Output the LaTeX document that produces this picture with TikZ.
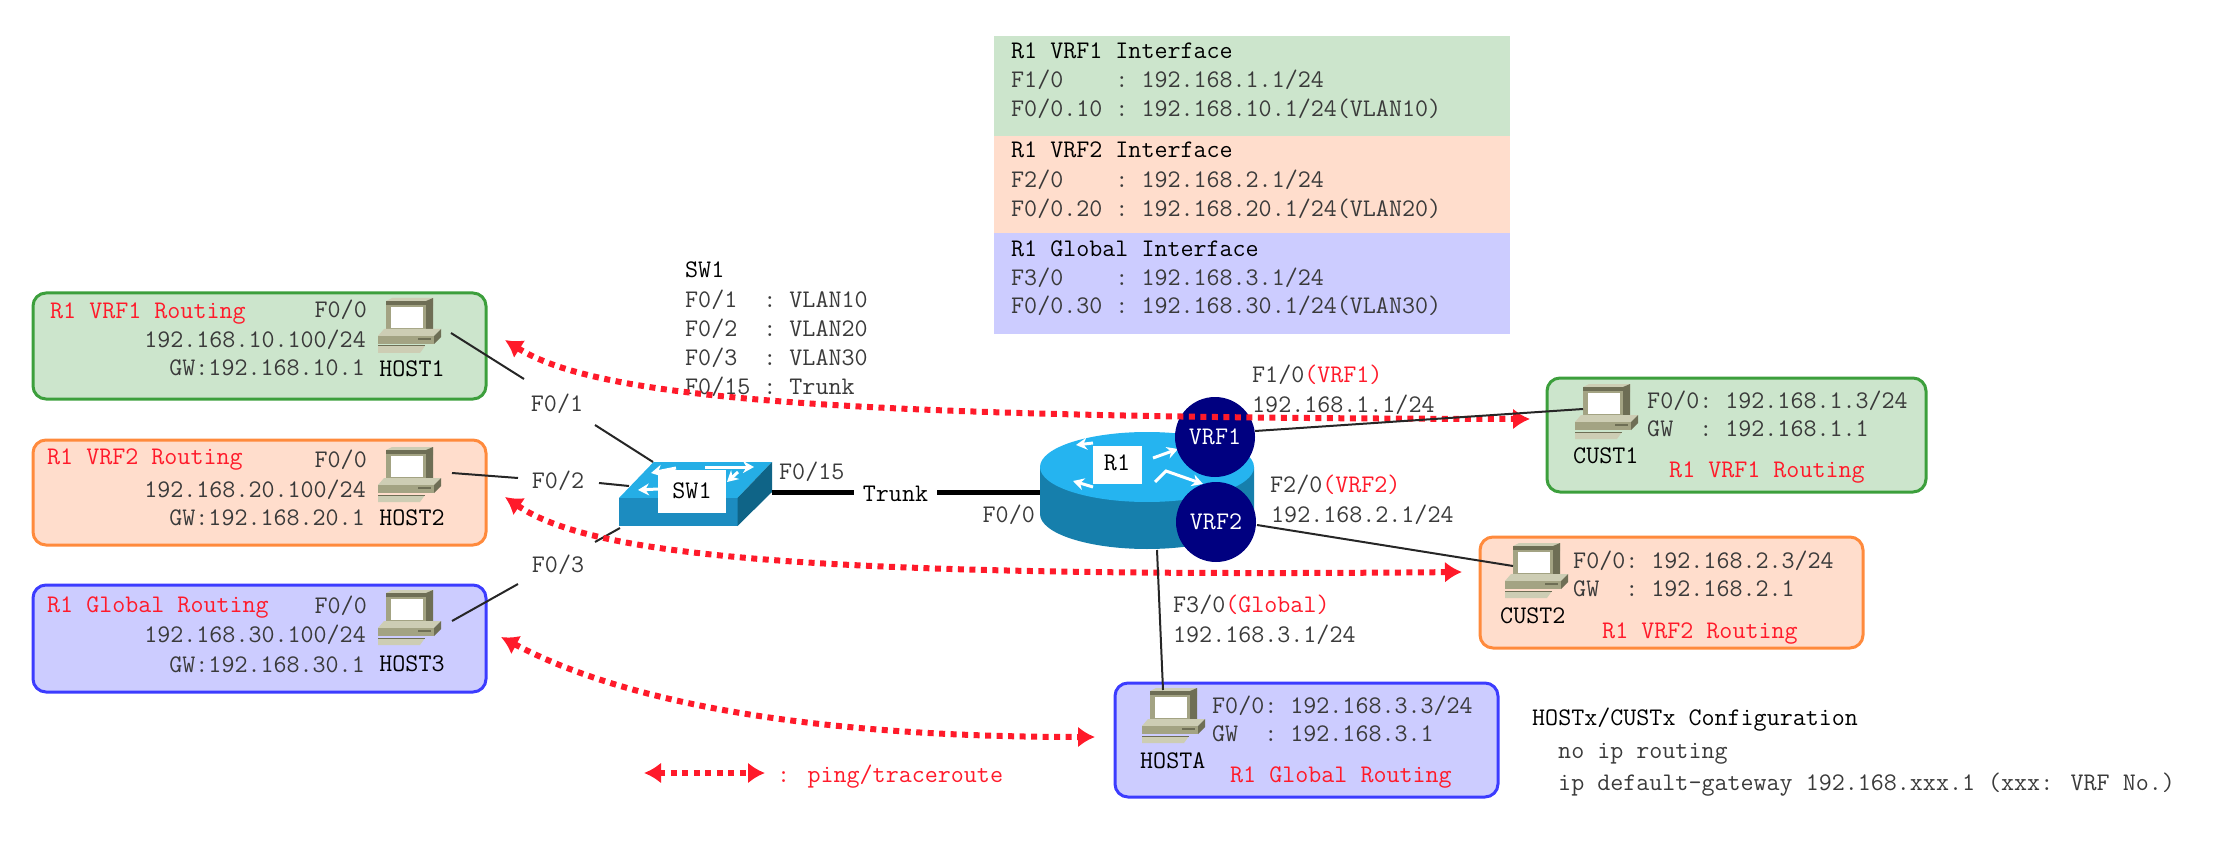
\documentclass[tikz,border=0pt]{standalone}
\usetikzlibrary{arrows.meta}
\definecolor{gfill}{HTML}{CCE5CC}\definecolor{ofill}{HTML}{FFDDCC}\definecolor{bfill}{HTML}{CCCCFF}
\definecolor{gline}{HTML}{3C9F3C}\definecolor{oline}{HTML}{FF8A3C}\definecolor{bline}{HTML}{3C3CFF}
\definecolor{txt}{HTML}{3A3A3A}\definecolor{red1}{HTML}{FF1A2A}
\definecolor{swtop}{HTML}{25AEE6}\definecolor{swfront}{HTML}{1C8CC0}\definecolor{swside}{HTML}{0F6487}
\definecolor{rtop}{HTML}{25B4F0}\definecolor{rbody}{HTML}{167FAC}\definecolor{vrf}{HTML}{000080}
\definecolor{pc1}{HTML}{A3A383}\definecolor{pc2}{HTML}{6E6E55}\definecolor{pc3}{HTML}{CDCDB4}
\tikzset{
  lab/.style={font=\fontsize{25.3}{30}\selectfont\ttfamily,text=txt,inner sep=0pt,anchor=base west},
  labr/.style={lab,anchor=base east},
  labc/.style={lab,anchor=base},
  head/.style={lab,text=black},
  redt/.style={lab,text=red1},
  grp/.style={draw=#1line,fill=#1fill,line width=3pt,rounded corners=13pt},
  link/.style={draw=black!85,line width=2pt},
  ping/.style={draw=red1,line width=6pt,dash pattern=on 6pt off 5.5pt,{Latex[length=17pt,width=21pt]}-{Latex[length=17pt,width=21pt]}},
  flow/.style={draw=white,line width=3pt,-{Stealth[length=11pt,width=12pt]}},
  pics/computer/.style={code={
    \fill[pc3] (8,3) -- (14,0) -- (55,0) -- (55,8) -- (8,8) -- cycle;
    \fill[pc1] (8,3) rectangle (48,35);
    \fill[pc2] (48,3) -- (55,0) -- (55,32) -- (48,35) -- cycle;
    \fill[pc2] (8,3) rectangle (48,7);
    \fill[white] (13,9) rectangle (45,30);
    \fill[pc2] (14,32) rectangle (46,36);
    \fill[pc3] (0,38) -- (6,31) -- (63,31) -- (56,38) -- cycle;
    \fill[pc1] (0,38) rectangle (56,46);
    \fill[pc2] (56,38) -- (63,31) -- (63,39) -- (56,46) -- cycle;
    \fill[pc2] (40,40) rectangle (53,42);
    \fill[pc3] (0,48) -- (47,48) -- (42,55) -- (0,55) -- cycle;
    \draw[pc2,line width=1pt] (0,48) -- (47,48);
  }}
}
\begin{document}
\begin{tikzpicture}[x=1pt,y=-1pt]
\useasboundingbox (0,0) rectangle (2232,866);
% interface table
\fill[gfill] (994,36) rectangle (1510,136);
\fill[ofill] (994,136) rectangle (1510,233);
\fill[bfill] (994,233) rectangle (1510,334);
\node[head] (t1) at (1011,59) {R1 VRF1 Interface};
\node[lab] (t2) at (1011,88) {F1/0~~~~:~192.168.1.1/24};
\node[lab] (t3) at (1011,117) {F0/0.10~:~192.168.10.1/24(VLAN10)};
\node[head] (t4) at (1011,158) {R1 VRF2 Interface};
\node[lab] (t5) at (1011,188) {F2/0~~~~:~192.168.2.1/24};
\node[lab] (t6) at (1011,217) {F0/0.20~:~192.168.20.1/24(VLAN20)};
\node[head] (t7) at (1011,257) {R1 Global Interface};
\node[lab] (t8) at (1011,286) {F3/0~~~~:~192.168.3.1/24};
\node[lab] (t9) at (1011,314) {F0/0.30~:~192.168.30.1/24(VLAN30)};
% SW1 table
\node[head] (s0) at (685,278) {SW1};
\node[lab] (s1) at (685,308) {F0/1~~:~VLAN10};
\node[lab] (s2) at (685,337) {F0/2~~:~VLAN20};
\node[lab] (s3) at (685,366) {F0/3~~:~VLAN30};
\node[lab] (s4) at (685,395) {F0/15~:~Trunk};
% group boxes
\draw[grp=g] (33,293) rectangle (486,399);
\draw[grp=o] (33,440) rectangle (486,545);
\draw[grp=b] (33,585) rectangle (486,692);
\draw[grp=g] (1547,378) rectangle (1926,492);
\draw[grp=o] (1480,537) rectangle (1863,648);
\draw[grp=b] (1115,683) rectangle (1498,797);
% computers
\pic at (378,298) {computer};
\pic at (378,447) {computer};
\pic at (378,590) {computer};
\pic at (1575,384) {computer};
\pic at (1505,543) {computer};
\pic at (1142,688) {computer};
% left box texts
\node[redt] (a1) at (50,319) {R1 VRF1 Routing};
\node[labr] (a2) at (367,318) {F0/0};
\node[labr] (a3) at (366,348) {192.168.10.100/24};
\node[labr] (a4) at (365,376) {GW:192.168.10.1};
\node[head,anchor=base] (h1) at (412,377) {HOST1};
\node[redt] (b1) at (47,464) {R1 VRF2 Routing};
\node[labr] (b2) at (367,467) {F0/0};
\node[labr] (b3) at (366,497) {192.168.20.100/24};
\node[labr] (b4) at (365,525) {GW:192.168.20.1};
\node[head,anchor=base] (h2) at (412,525) {HOST2};
\node[redt] (c1) at (47,612) {R1 Global Routing};
\node[labr] (c2) at (367,613) {F0/0};
\node[labr] (c3) at (366,642) {192.168.30.100/24};
\node[labr] (c4) at (365,672) {GW:192.168.30.1};
\node[head,anchor=base] (h3) at (412,671) {HOST3};
% switch body
\fill[swtop] (619,498) -- (653.6,462) -- (772,462) -- (737.5,498) -- cycle;
\fill[swfront] (619,498) rectangle (737.5,526);
\fill[swside] (737.5,498) -- (772,462) -- (772,492) -- (737.5,526) -- cycle;
\draw[flow] (705,467) -- (754,467);
\draw[flow] (676,468) -- (651,473);
\draw[flow] (658,489) -- (638,490);
\draw[flow] (738,472) -- (727,482);
\node[fill=white,minimum width=68pt,minimum height=43pt,inner sep=0pt] (swbox) at (692,491.5) {};
\node[head,anchor=center] (sw) at (692,491) {SW1};
% router body
\fill[rbody] (1040,467) -- (1040,514) arc[x radius=107,y radius=35,start angle=180,end angle=0] -- (1254,467) -- cycle;
\fill[rtop] (1147,467) ellipse[x radius=107,y radius=35];
\draw[flow] (1093,443) -- (1076,445);
\draw[flow] (1093,487) -- (1073,481);
\draw[flow] (1153,458) -- (1178,449);
\draw[flow] (1155,482) -- (1166,471) -- (1203,484);
\node[fill=white,minimum width=49pt,minimum height=38pt,inner sep=0pt] (r1box) at (1117,465) {};
\node[head,anchor=center] (r1) at (1117,463) {R1};
\node[circle,fill=vrf,minimum size=80pt,inner sep=0pt,font=\fontsize{25.3}{30}\selectfont\ttfamily,text=white] (v1) at (1215,437) {VRF1};
\node[circle,fill=vrf,minimum size=80pt,inner sep=0pt,font=\fontsize{25.3}{30}\selectfont\ttfamily,text=white] (v2) at (1216,522) {VRF2};
% port labels
\node[labc] (p1) at (557,411) {F0/1};
\node[labc] (p2) at (558,488) {F0/2};
\node[labc] (p3) at (558,572) {F0/3};
\node[lab] (p15) at (779,479) {F0/15};
\node[labr] (p0) at (1035,522) {F0/0};
\node[labc,text=black,outer xsep=9pt] (trunk) at (895.5,501) {Trunk};
% link end points
\coordinate (h1e) at (451,333); \coordinate (p1a) at (524,379);
\coordinate (p1b) at (595,425); \coordinate (sw1) at (653,462);
\coordinate (h2e) at (452,473); \coordinate (p2a) at (518,478);
\coordinate (p2b) at (599,483); \coordinate (sw2) at (629,486);
\coordinate (h3e) at (452,621); \coordinate (p3a) at (518,584);
\coordinate (p3b) at (595,542); \coordinate (sw3) at (620,528);
\coordinate (swr) at (772,492); \coordinate (rl) at (1040,492);
\coordinate (trm) at (895.5,492);
\coordinate (v1e) at (1255,431); \coordinate (cu1) at (1583,409);
\coordinate (v2e) at (1257,525); \coordinate (cu2) at (1513,566);
\coordinate (rb) at (1157,550); \coordinate (hae) at (1163,690);
\draw[link] (h1e) -- (p1a);
\draw[link] (p1b) -- (sw1);
\draw[link] (h2e) -- (p2a);
\draw[link] (p2b) -- (sw2);
\draw[link] (h3e) -- (p3a);
\draw[link] (p3b) -- (sw3);
\draw[draw=black,line width=5pt] (swr) -- (trunk.west |- trm);
\draw[draw=black,line width=5pt] (trunk.east |- trm) -- (rl);
% right labels
\node[lab] (f1) at (1252,382) {F1/0\textcolor{red1}{(VRF1)}};
\node[lab] (f1i) at (1252,412) {192.168.1.1/24};
\node[lab] (f2) at (1270,492) {F2/0\textcolor{red1}{(VRF2)}};
\node[lab] (f2i) at (1271,522) {192.168.2.1/24};
\node[lab] (f3) at (1173,612) {F3/0\textcolor{red1}{(Global)}};
\node[lab] (f3i) at (1173,642) {192.168.3.1/24};
\node[lab] (d1) at (1647,408) {F0/0:~192.168.1.3/24};
\node[lab] (d2) at (1647,436) {GW~~:~192.168.1.1};
\node[head] (d3) at (1573,463) {CUST1};
\node[redt] (d4) at (1669,477) {R1 VRF1 Routing};
\node[lab] (e1) at (1573,568) {F0/0:~192.168.2.3/24};
\node[lab] (e2) at (1573,596) {GW~~:~192.168.2.1};
\node[head] (e3) at (1500,623) {CUST2};
\node[redt] (e4) at (1602,638) {R1 VRF2 Routing};
\node[lab] (g1) at (1212,713) {F0/0:~192.168.3.3/24};
\node[lab] (g2) at (1212,741) {GW~~:~192.168.3.1};
\node[head] (g3) at (1140,768) {HOSTA};
\node[redt] (g4) at (1230,782) {R1 Global Routing};
\node[head] (n1) at (1532,725) {HOSTx/CUSTx Configuration};
\node[lab] (n2) at (1558,758) {no ip routing};
\node[lab] (n3) at (1558,790) {ip default-gateway 192.168.xxx.1 (xxx: VRF No.)};
\node[redt] (lg) at (777,782) {: ping/traceroute};
% ping arrows
\coordinate (a1s) at (505,340); \coordinate (a1e) at (1530,419);
\coordinate (a2s) at (505,497); \coordinate (a2e) at (1462,572);
\coordinate (a3s) at (501,637); \coordinate (a3e) at (1095,737);
\coordinate (lgs) at (644,773); \coordinate (lge) at (765,773);
\draw[ping] (a1s) .. controls (600,400) and (850,418) .. (a1e);
\draw[ping] (a2s) .. controls (590,555) and (800,578) .. (a2e);
\draw[ping] (a3s) .. controls (620,700) and (800,737) .. (a3e);
\draw[ping] (lgs) -- (lge);
\draw[link] (v1e) -- (cu1);
\draw[link] (v2e) -- (cu2);
\draw[link] (rb) -- (hae);
\end{tikzpicture}
\end{document}
